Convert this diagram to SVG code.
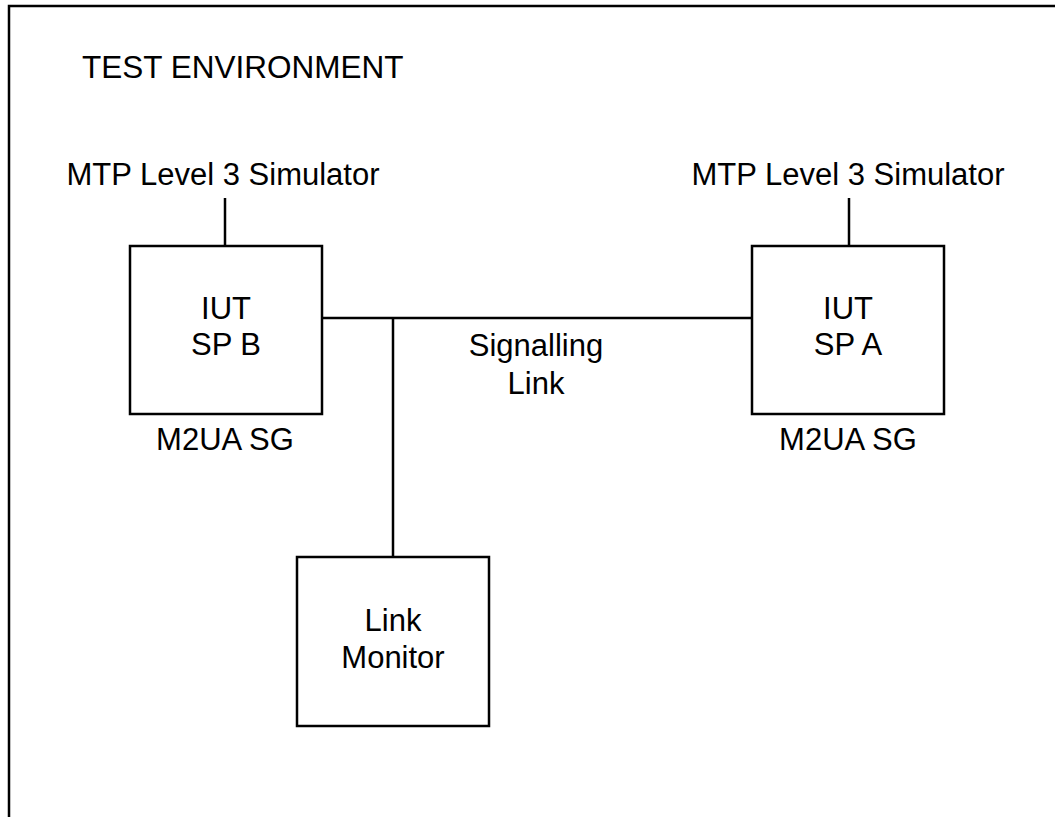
<svg xmlns="http://www.w3.org/2000/svg" width="1055" height="817" viewBox="0 0 1055 817">
<style>
.t{font-family:"Liberation Sans",Arial,sans-serif;font-size:31px;fill:#000}
.c{text-anchor:middle}
.b{fill:#fff;stroke:#000;stroke-width:2.5}
.l{stroke:#000;stroke-width:2.5;fill:none}
</style>
<rect x="0" y="0" width="1055" height="817" fill="#fff"/>
<g id="frame">
<path class="l" d="M9,817 V6 H1055"/>
<text class="t" x="82" y="78" style="font-size:31.5px">TEST ENVIRONMENT</text>
</g>
<g id="connectors">
<line class="l" x1="225" y1="198" x2="225" y2="246"/>
<line class="l" x1="849" y1="198" x2="849" y2="246"/>
<line class="l" x1="322" y1="318" x2="752" y2="318"/>
<line class="l" x1="393" y1="318" x2="393" y2="557"/>
</g>
<g id="simB"><text class="t c" x="223" y="185">MTP Level 3 Simulator</text></g>
<g id="simA"><text class="t c" x="848" y="185">MTP Level 3 Simulator</text></g>
<g id="spB">
<rect class="b" x="130" y="246" width="192" height="168"/>
<text class="t c" x="226" y="319">IUT</text>
<text class="t c" x="226" y="355">SP B</text>
<text class="t c" x="225" y="450">M2UA SG</text>
</g>
<g id="spA">
<rect class="b" x="752" y="246" width="192" height="168"/>
<text class="t c" x="848" y="319">IUT</text>
<text class="t c" x="848" y="355">SP A</text>
<text class="t c" x="848" y="450">M2UA SG</text>
</g>
<g id="linkLabel">
<text class="t c" x="536" y="356">Signalling</text>
<text class="t c" x="536" y="394">Link</text>
</g>
<g id="monitor">
<rect class="b" x="297" y="557" width="192" height="169"/>
<text class="t c" x="393" y="631">Link</text>
<text class="t c" x="393" y="668">Monitor</text>
</g>
</svg>
